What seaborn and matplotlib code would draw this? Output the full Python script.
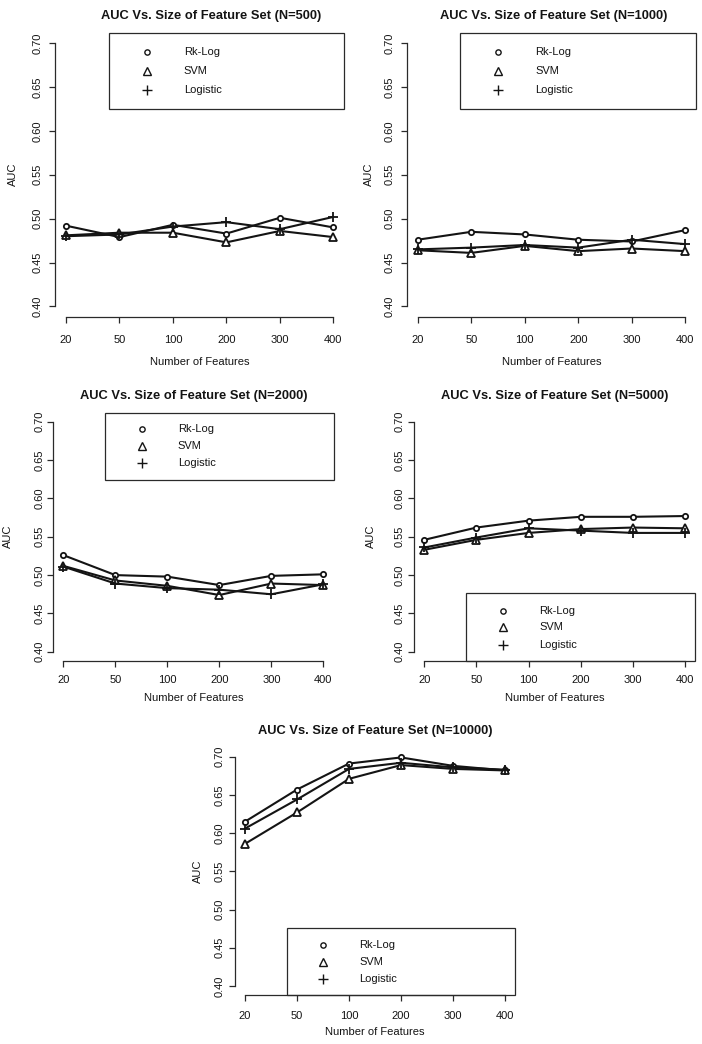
import numpy as np
import pandas as pd
import matplotlib
matplotlib.use('Agg')
import matplotlib.pyplot as plt
import seaborn as sns
from matplotlib.patches import Rectangle
from matplotlib.lines import Line2D

# datos
features = ['20', '50', '100', '200', '300', '400']
methods = ['Rk-Log', 'SVM', 'Logistic']
y_ticks = [0.40, 0.45, 0.50, 0.55, 0.60, 0.65, 0.70]

rklog_500 = [0.492, 0.479, 0.493, 0.483, 0.501, 0.490]
svm_500 = [0.481, 0.484, 0.484, 0.473, 0.486, 0.479]
logistic_500 = [0.480, 0.482, 0.491, 0.496, 0.488, 0.502]

rklog_1000 = [0.476, 0.485, 0.482, 0.476, 0.474, 0.487]
svm_1000 = [0.464, 0.461, 0.469, 0.463, 0.466, 0.463]
logistic_1000 = [0.465, 0.467, 0.470, 0.467, 0.476, 0.471]

rklog_2000 = [0.526, 0.500, 0.498, 0.487, 0.499, 0.501]
svm_2000 = [0.512, 0.493, 0.486, 0.474, 0.489, 0.487]
logistic_2000 = [0.511, 0.489, 0.483, 0.481, 0.475, 0.488]

rklog_5000 = [0.546, 0.562, 0.571, 0.576, 0.576, 0.577]
svm_5000 = [0.533, 0.546, 0.555, 0.560, 0.562, 0.561]
logistic_5000 = [0.536, 0.549, 0.561, 0.558, 0.555, 0.555]

rklog_10000 = [0.615, 0.657, 0.691, 0.699, 0.688, 0.682]
svm_10000 = [0.586, 0.627, 0.671, 0.689, 0.684, 0.682]
logistic_10000 = [0.606, 0.644, 0.684, 0.692, 0.686, 0.683]

sns.set_style('ticks')
plt.rcParams['font.family'] = ['Liberation Sans', 'DejaVu Sans']

W, H = 702, 1044
fig = plt.figure(figsize=(W / 100, H / 100), dpi=100)

marker_of = {'Rk-Log': 'o', 'SVM': '^', 'Logistic': '+'}
msize = {'o': 3.8, '^': 5.6, '+': 6.6}
ink = '#141414'

# (N, series, caja en pixeles izq/arriba/der/abajo, leyenda, x del titulo, separaciones)
panels = [
    ('500', (rklog_500, svm_500, logistic_500), (55.3, 32.5, 344.0, 317.0), 'top', 0.54,
     dict(ylab=42, ytl=18, xtl=25, xlab=45)),
    ('1000', (rklog_1000, svm_1000, logistic_1000), (407.0, 32.5, 696.0, 317.0), 'top', 0.509,
     dict(ylab=38, ytl=18, xtl=25, xlab=45)),
    ('2000', (rklog_2000, svm_2000, logistic_2000), (53.0, 412.5, 333.7, 661.0), 'top', 0.5,
     dict(ylab=45, ytl=14, xtl=21, xlab=37)),
    ('5000', (rklog_5000, svm_5000, logistic_5000), (413.9, 412.5, 695.4, 661.0), 'bottom', 0.5,
     dict(ylab=43, ytl=15, xtl=21, xlab=37)),
    ('10000', (rklog_10000, svm_10000, logistic_10000), (234.6, 747.5, 515.4, 995.2), 'bottom', 0.5,
     dict(ylab=37, ytl=15, xtl=22, xlab=37)),
]


def draw_legend(ax, where):
    if where == 'top':
        y0, y1 = 0.73, 1.0
        rows = [0.932, 0.865, 0.797]
    else:
        y0, y1 = 0.0, 0.272
        rows = [0.203, 0.135, 0.064]
    ax.add_patch(Rectangle((0.185, y0), 0.815, y1 - y0, transform=ax.transAxes,
                           fill=False, ec='#2a2a2a', lw=0.9, clip_on=False, zorder=5))
    for m, yy in zip(methods, rows):
        mk = marker_of[m]
        ax.add_line(Line2D([0.316], [yy], transform=ax.transAxes, marker=mk, ls='none',
                           ms=msize[mk], mew=1.0, mfc='white', mec=ink, clip_on=False))
        ax.text(0.445, yy, m, transform=ax.transAxes, va='center', ha='left',
                fontsize=8.0, color=ink)


for n, series, (l, t, r, b), where, tx, gap in panels:
    ax = fig.add_axes([l / W, 1 - b / H, (r - l) / W, (b - t) / H])
    w_px, h_px = r - l, b - t

    df = pd.DataFrame({
        'Features': features * len(methods),
        'AUC': [v for s in series for v in s],
        'Method': [m for m in methods for _ in features],
    })
    for m in methods:
        sub = df[df['Method'] == m]
        sns.lineplot(data=sub, x='Features', y='AUC', sort=False, color=ink, lw=1.5,
                     marker=marker_of[m], ms=msize[marker_of[m]], mew=1.3,
                     mfc='white', mec=ink, ax=ax)

    ax.set_xlim(-0.2, len(features) - 0.8)
    ax.set_ylim(0.388, 0.712)
    ax.set_yticks(y_ticks)
    ax.set_yticklabels(['%.2f' % v for v in y_ticks])
    sns.despine(ax=ax)
    ax.spines['left'].set_bounds(0.40, 0.70)
    ax.spines['bottom'].set_bounds(0, len(features) - 1)
    for s in ('left', 'bottom'):
        ax.spines[s].set_linewidth(0.9)
        ax.spines[s].set_color('#2a2a2a')

    tick_len = 4.5
    ax.tick_params(axis='both', length=tick_len, width=0.9, color='#2a2a2a',
                   labelsize=8.0, labelcolor=ink)
    ax.tick_params(axis='y', labelrotation=90,
                   pad=(gap['ytl'] - 5.5 - tick_len * 1.39) / 1.39)
    for lab in ax.get_yticklabels():
        lab.set_va('center')
    ax.tick_params(axis='x', pad=(gap['xtl'] - 6.5 - tick_len * 1.39) / 1.39)

    ax.set_xlabel('Number of Features', fontsize=8.0, color=ink)
    ax.xaxis.set_label_coords(0.5, -gap['xlab'] / h_px)
    ax.xaxis.label.set_va('center')
    ax.set_ylabel('AUC', fontsize=8.0, color=ink)
    ax.yaxis.set_label_coords(-gap['ylab'] / w_px, 0.5)
    ax.yaxis.label.set_va('center')

    ax.set_title('AUC Vs. Size of Feature Set (N=%s)' % n, fontsize=9.3,
                 fontweight='bold', color=ink, x=tx, pad=9.5)

    draw_legend(ax, where)

fig.savefig('out.png', dpi=100)
